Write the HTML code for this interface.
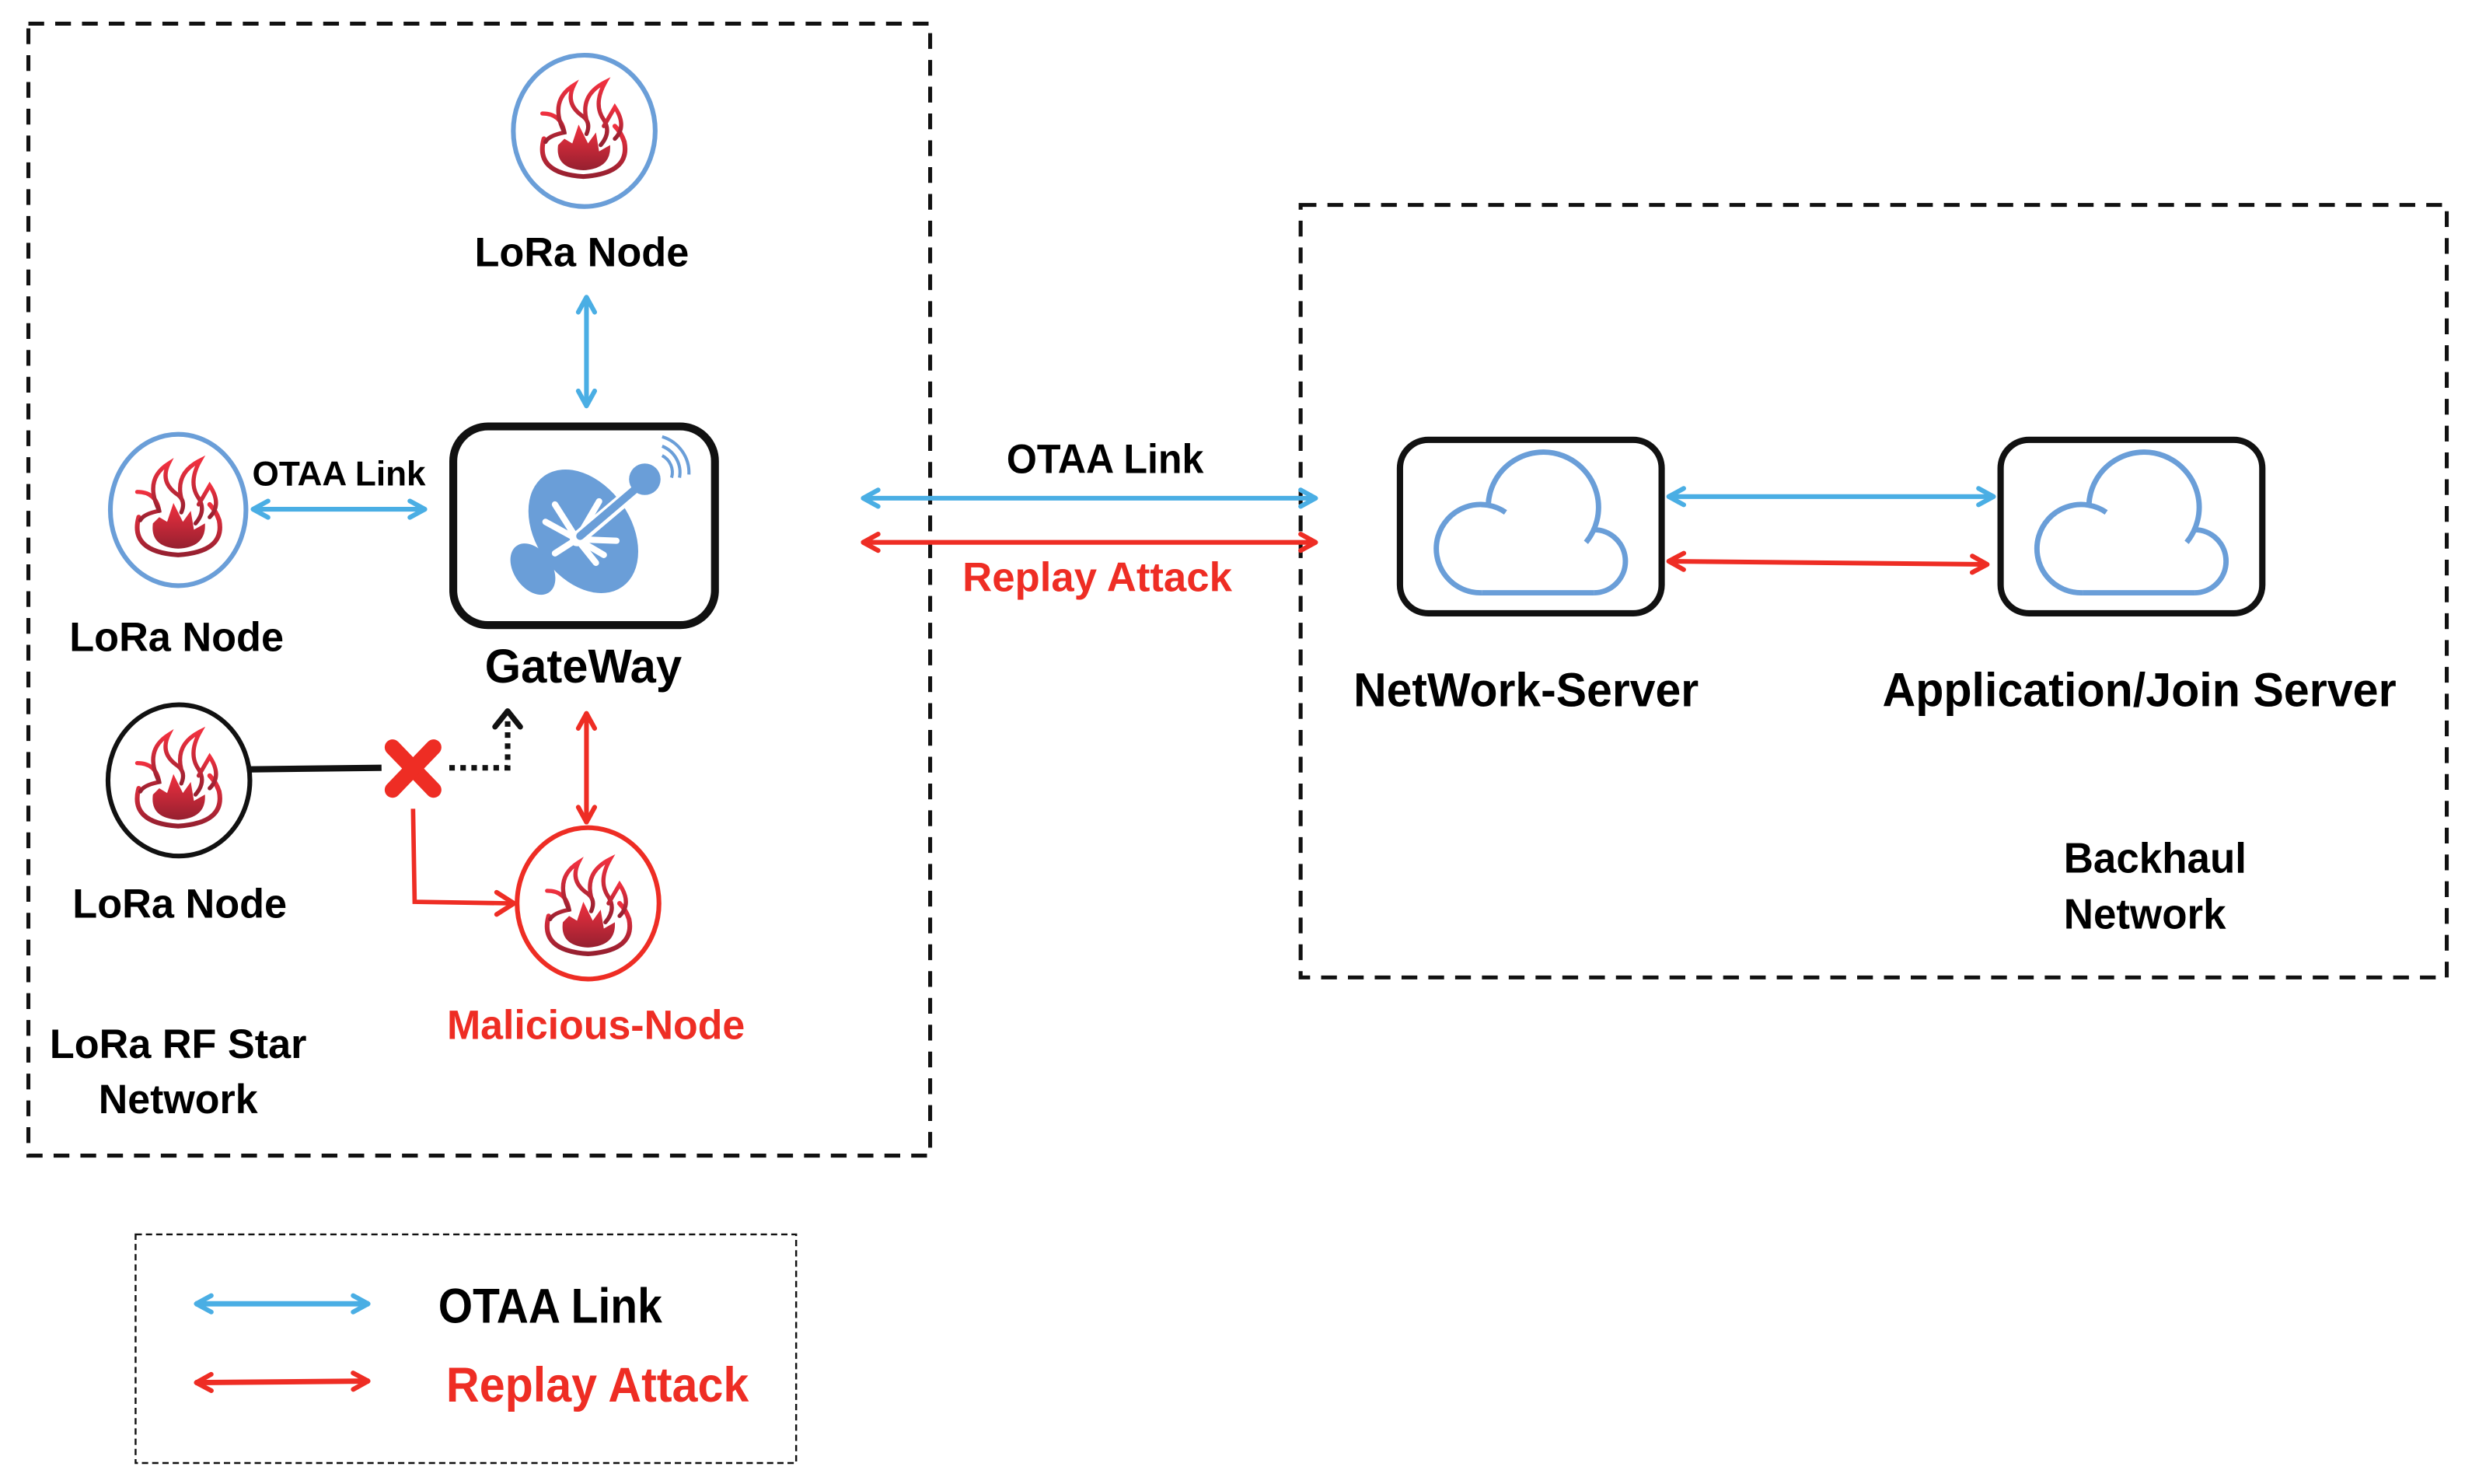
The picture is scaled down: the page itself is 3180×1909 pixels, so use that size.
<!DOCTYPE html>
<html><head><meta charset="utf-8"><style>
html,body{margin:0;padding:0;background:#fff}
svg{display:block}
text{font-family:"Liberation Sans",sans-serif;font-weight:bold}
</style></head><body>
<svg width="3180" height="1909" viewBox="0 0 1568 941.3" xmlns="http://www.w3.org/2000/svg">
<defs>
<linearGradient id="fg" x1="0" y1="0" x2="0" y2="1">
<stop offset="0" stop-color="#f0303f"/><stop offset="1" stop-color="#962030"/>
</linearGradient>
<marker id="hb" viewBox="0 0 14 14" refX="13" refY="7" markerWidth="14" markerHeight="14" markerUnits="userSpaceOnUse" orient="auto-start-reverse">
<path d="M3 1.8 L12.5 7 L3 12.2" fill="none" stroke="#4aaee4" stroke-width="3" stroke-linecap="round" stroke-linejoin="round"/></marker>
<marker id="hr" viewBox="0 0 14 14" refX="13" refY="7" markerWidth="14" markerHeight="14" markerUnits="userSpaceOnUse" orient="auto-start-reverse">
<path d="M3 1.8 L12.5 7 L3 12.2" fill="none" stroke="#ee2d24" stroke-width="3" stroke-linecap="round" stroke-linejoin="round"/></marker>
<g id="flame">
<path d="M-25 6 Q-31 28 0 30 Q30 28 26 8 Q24 2 20 -2" fill="none" stroke="url(#fg)" stroke-width="3" stroke-linecap="round"/>
<path d="M-16 10 Q-18 25 0 26 Q18 25 17 10 L10 14 L8 2 L3 9 L-3 -3 L-7 9 L-12 6 Z" fill="url(#fg)"/>
<g fill="none" stroke="url(#fg)" stroke-width="2.6" stroke-linecap="round">
<path d="M-26 -10 Q-14 -10 -12 2 Q-22 4 -24 8"/>
<path d="M-12 2 Q-22 -18 -6 -28 Q-12 -16 0 -8 Q5 -4 2 3"/>
<path d="M2 -6 Q-2 -22 14 -30 Q6 -16 13 -6 Q18 2 11 10"/>
<path d="M13 -2 L20 -14 Q28 -2 20 6"/>
</g>
</g>
<g id="cloud" fill="none" stroke="#6a9ed8" stroke-width="3.4" stroke-linecap="butt">
<path d="M53 98 A28 28 0 1 1 68 47"/>
<path d="M57 42 A35 35 0 1 1 119 66"/>
<path d="M124 58 A20 20 0 0 1 124 98"/>
<path d="M124 98 L53 98"/>
</g>
</defs>

<rect x="18" y="15" width="572" height="718" fill="none" stroke="#111" stroke-width="2.5" stroke-dasharray="10 7"/>
<rect x="825" y="130" width="727" height="490" fill="none" stroke="#111" stroke-width="2.5" stroke-dasharray="10 7"/>
<rect x="86" y="783" width="419" height="145" fill="none" stroke="#111" stroke-width="1.2" stroke-dasharray="4 2.5"/>

<ellipse cx="370.6" cy="83" rx="45" ry="48" fill="none" stroke="#6a9ed8" stroke-width="3"/>
<use href="#flame" x="370" y="82"/>
<text x="369" y="169" font-size="26" text-anchor="middle" textLength="136" lengthAdjust="spacingAndGlyphs">LoRa Node</text>
<line x1="372" y1="188" x2="372" y2="258" stroke="#4aaee4" stroke-width="3" marker-start="url(#hb)" marker-end="url(#hb)"/>

<ellipse cx="113" cy="323.5" rx="43" ry="48" fill="none" stroke="#6a9ed8" stroke-width="3"/>
<use href="#flame" x="113" y="322"/>
<text x="112" y="413" font-size="26" text-anchor="middle" textLength="136" lengthAdjust="spacingAndGlyphs">LoRa Node</text>
<text x="215" y="308" font-size="22" text-anchor="middle" textLength="110" lengthAdjust="spacingAndGlyphs">OTAA Link</text>
<line x1="160" y1="323" x2="270" y2="323" stroke="#4aaee4" stroke-width="3" marker-start="url(#hb)" marker-end="url(#hb)"/>

<rect x="287.5" y="270.5" width="166" height="126" rx="22" fill="none" stroke="#111" stroke-width="5"/>
<g fill="#6a9ed8">
<ellipse cx="338" cy="361" rx="12" ry="18" transform="rotate(-35 338 361)"/>
<ellipse cx="370" cy="337" rx="30" ry="43" transform="rotate(-35 370 337)"/>
</g>
<g stroke="#fff" stroke-linecap="round" stroke-width="4">
<line x1="366" y1="342" x2="411" y2="304" stroke-width="9"/>
<line x1="352" y1="320" x2="366" y2="342"/>
<line x1="380" y1="318" x2="366" y2="342"/>
<line x1="346" y1="331" x2="366" y2="342"/>
<line x1="391" y1="343" x2="366" y2="342"/>
<line x1="378" y1="357" x2="366" y2="342"/>
<line x1="383" y1="352" x2="366" y2="342"/>
<line x1="352" y1="351" x2="366" y2="342"/>
</g>
<line x1="368" y1="340" x2="408" y2="306" stroke="#6a9ed8" stroke-width="5" stroke-linecap="round"/>
<circle cx="409" cy="304" r="10" fill="#6a9ed8"/>
<g fill="none" stroke="#6a9ed8" stroke-width="2">
<path d="M420 289 A12 12 0 0 1 426 303"/>
<path d="M420 283 A18 18 0 0 1 431 303"/>
<path d="M420 277 A24 24 0 0 1 437 301"/>
</g>
<text x="370" y="433" font-size="30" text-anchor="middle" textLength="125" lengthAdjust="spacingAndGlyphs">GateWay</text>

<ellipse cx="113.5" cy="495" rx="45" ry="48" fill="none" stroke="#111" stroke-width="3"/>
<use href="#flame" x="113" y="494"/>
<text x="114" y="582" font-size="26" text-anchor="middle" textLength="136" lengthAdjust="spacingAndGlyphs">LoRa Node</text>
<line x1="159" y1="488" x2="242" y2="487" stroke="#111" stroke-width="4"/>
<g stroke="#ee2d24" stroke-width="10" stroke-linecap="round">
<line x1="249" y1="474" x2="275" y2="501"/><line x1="275" y1="474" x2="249" y2="501"/>
</g>
<path d="M285 487 L322 487 L322 456" fill="none" stroke="#111" stroke-width="3.5" stroke-dasharray="3.5 3.5"/>
<path d="M314 461 L322 451 L330 461" fill="none" stroke="#111" stroke-width="3.5" stroke-linecap="round" stroke-linejoin="round"/>
<path d="M262 513 L263 572 L324 573" fill="none" stroke="#ee2d24" stroke-width="2.8"/>
<path d="M315 566 L326 573 L315 580" fill="none" stroke="#ee2d24" stroke-width="3" stroke-linecap="round"/>

<ellipse cx="373" cy="573" rx="45" ry="48" fill="none" stroke="#ee2d24" stroke-width="3"/>
<use href="#flame" x="373" y="575"/>
<line x1="372" y1="452" x2="372" y2="522" stroke="#ee2d24" stroke-width="3" marker-start="url(#hr)" marker-end="url(#hr)"/>
<text x="378" y="659" font-size="26" fill="#ee2d24" text-anchor="middle" textLength="189" lengthAdjust="spacingAndGlyphs">Malicious-Node</text>

<text x="113" y="671" font-size="26" text-anchor="middle" textLength="163" lengthAdjust="spacingAndGlyphs">LoRa RF Star</text>
<text x="113" y="706" font-size="26" text-anchor="middle" textLength="101" lengthAdjust="spacingAndGlyphs">Network</text>

<text x="701" y="300" font-size="26" text-anchor="middle" textLength="125" lengthAdjust="spacingAndGlyphs">OTAA Link</text>
<line x1="547" y1="316" x2="835" y2="316" stroke="#4aaee4" stroke-width="3" marker-start="url(#hb)" marker-end="url(#hb)"/>
<line x1="547" y1="344" x2="835" y2="344" stroke="#ee2d24" stroke-width="3" marker-start="url(#hr)" marker-end="url(#hr)"/>
<text x="696" y="375" font-size="26" fill="#ee2d24" text-anchor="middle" textLength="171" lengthAdjust="spacingAndGlyphs">Replay Attack</text>

<rect x="888" y="279" width="166" height="110" rx="18" fill="none" stroke="#111" stroke-width="4"/>
<use href="#cloud" x="887" y="278"/>
<rect x="1269" y="279" width="166" height="110" rx="18" fill="none" stroke="#111" stroke-width="4"/>
<use href="#cloud" x="1268" y="278"/>
<line x1="1058" y1="315" x2="1265" y2="315" stroke="#4aaee4" stroke-width="3" marker-start="url(#hb)" marker-end="url(#hb)"/>
<line x1="1058" y1="356" x2="1261" y2="358" stroke="#ee2d24" stroke-width="3" marker-start="url(#hr)" marker-end="url(#hr)"/>
<text x="968" y="448" font-size="30" text-anchor="middle" textLength="219" lengthAdjust="spacingAndGlyphs">NetWork-Server</text>
<text x="1357" y="448" font-size="30" text-anchor="middle" textLength="326" lengthAdjust="spacingAndGlyphs">Application/Join Server</text>
<text x="1309" y="553.5" font-size="27" textLength="116" lengthAdjust="spacingAndGlyphs">Backhaul</text>
<text x="1309" y="589" font-size="27" textLength="103" lengthAdjust="spacingAndGlyphs">Network</text>

<line x1="124" y1="827" x2="234" y2="827" stroke="#4aaee4" stroke-width="3.4" marker-start="url(#hb)" marker-end="url(#hb)"/>
<line x1="124" y1="877" x2="234" y2="876" stroke="#ee2d24" stroke-width="3.4" marker-start="url(#hr)" marker-end="url(#hr)"/>
<text x="278" y="839" font-size="31" textLength="142" lengthAdjust="spacingAndGlyphs">OTAA Link</text>
<text x="283" y="889" font-size="31" fill="#ee2d24" textLength="192" lengthAdjust="spacingAndGlyphs">Replay Attack</text>
</svg>
</body></html>
